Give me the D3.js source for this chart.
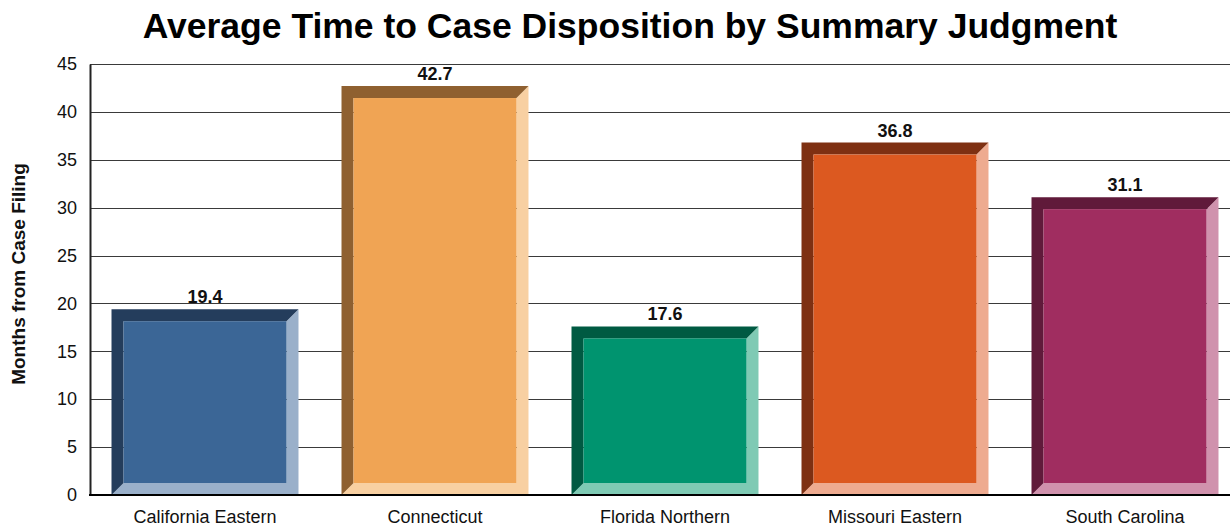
<!DOCTYPE html>
<html>
<head>
<meta charset="utf-8">
<script src="https://cdn.jsdelivr.net/npm/d3@7"></script>
<style>
  body { margin: 0; background: #fff; }
  text { font-family: "Liberation Sans", Arial, sans-serif; }
</style>
</head>
<body>
<script>
const w = 1230;
const h = 527;

// chart data
const districts = ["California Eastern", "Connecticut", "Florida Northern", "Missouri Eastern", "South Carolina"];
const months = [19.4, 42.7, 17.6, 36.8, 31.1];
const yTicks = [0, 5, 10, 15, 20, 25, 30, 35, 40, 45];

// face / dark edge / light edge colours per bar
const faceColors = ["#3b6696", "#f0a454", "#00946f", "#dc5920", "#a02d60"];
const darkColors = ["#243d5c", "#8f6030", "#005a42", "#7e3012", "#601a3a"];
const lightColors = ["#9ab0ca", "#f8d0a2", "#7fcab4", "#eeab90", "#d092ad"];

const margin = { top: 64, left: 90, bottom: 32 };
const plotRight = 1240; // plot runs past the window edge
const bevel = 12;

const svg = d3
  .select("body")
  .append("svg")
  .attr("width", w)
  .attr("height", h);

const x = d3
  .scaleBand()
  .domain(districts)
  .range([margin.left, plotRight])
  .paddingInner(0.187)
  .paddingOuter(0.0935);

const y = d3
  .scaleLinear()
  .domain([0, 45])
  .range([h - margin.bottom, margin.top]);

// gridlines
svg
  .append("g")
  .selectAll("line")
  .data(yTicks.slice(1))
  .enter()
  .append("line")
  .attr("x1", margin.left)
  .attr("x2", plotRight)
  .attr("y1", (d) => Math.round(y(d)) + 0.5)
  .attr("y2", (d) => Math.round(y(d)) + 0.5)
  .attr("stroke", "#3a3a3a")
  .attr("stroke-width", 1);

// y axis
const yAxis = svg
  .append("g")
  .attr("transform", `translate(${margin.left},0)`)
  .call(d3.axisLeft(y).tickValues(yTicks).tickSize(0).tickPadding(13));
yAxis.select(".domain").attr("stroke", "#222").attr("stroke-width", 2);
yAxis.selectAll("text").attr("font-size", 18).attr("fill", "#111").attr("font-family", "Liberation Sans, Arial, sans-serif");

// bars with bevelled edges
const bars = svg
  .append("g")
  .selectAll("g")
  .data(districts)
  .enter()
  .append("g");

bars.each(function (d, i) {
  const g = d3.select(this);
  const x0 = x(d);
  const x1 = x0 + x.bandwidth();
  const y0 = y(months[i]);
  const y1 = y(0);
  const b = bevel;

  // light right + bottom edge
  g.append("path")
    .attr("d", `M${x1},${y0} L${x1},${y1} L${x0},${y1} L${x0 + b},${y1 - b} L${x1 - b},${y1 - b} L${x1 - b},${y0 + b} Z`)
    .attr("fill", lightColors[i]);
  // dark top + left edge
  g.append("path")
    .attr("d", `M${x0},${y1} L${x0},${y0} L${x1},${y0} L${x1 - b},${y0 + b} L${x0 + b},${y0 + b} L${x0 + b},${y1 - b} Z`)
    .attr("fill", darkColors[i]);
  // face
  g.append("rect")
    .attr("x", x0 + b)
    .attr("y", y0 + b)
    .attr("width", x.bandwidth() - 2 * b)
    .attr("height", y1 - y0 - 2 * b)
    .attr("fill", faceColors[i]);
});

// value labels
svg
  .append("g")
  .selectAll("text")
  .data(months)
  .enter()
  .append("text")
  .attr("x", (d, i) => x(districts[i]) + x.bandwidth() / 2)
  .attr("y", (d) => y(d) - 6)
  .attr("text-anchor", "middle")
  .attr("font-size", 18)
  .attr("font-weight", "bold")
  .attr("fill", "#111")
  .text((d) => d.toFixed(1));

// baseline
svg
  .append("line")
  .attr("x1", margin.left - 1)
  .attr("x2", plotRight)
  .attr("y1", y(0))
  .attr("y2", y(0))
  .attr("stroke", "#000")
  .attr("stroke-width", 2);

// category labels
svg
  .append("g")
  .selectAll("text")
  .data(districts)
  .enter()
  .append("text")
  .attr("x", (d) => x(d) + x.bandwidth() / 2)
  .attr("y", h - 4)
  .attr("text-anchor", "middle")
  .attr("font-size", 18)
  .attr("fill", "#111")
  .text((d) => d);

// y axis title
svg
  .append("text")
  .attr("transform", `translate(25,274) rotate(-90)`)
  .attr("text-anchor", "middle")
  .attr("font-size", 19)
  .attr("font-weight", "bold")
  .attr("fill", "#111")
  .text("Months from Case Filing");

// chart title
svg
  .append("text")
  .attr("x", 630)
  .attr("y", 38)
  .attr("text-anchor", "middle")
  .attr("font-size", 35.5)
  .attr("font-weight", "bold")
  .attr("fill", "#000")
  .text("Average Time to Case Disposition by Summary Judgment");
</script>
</body>
</html>
